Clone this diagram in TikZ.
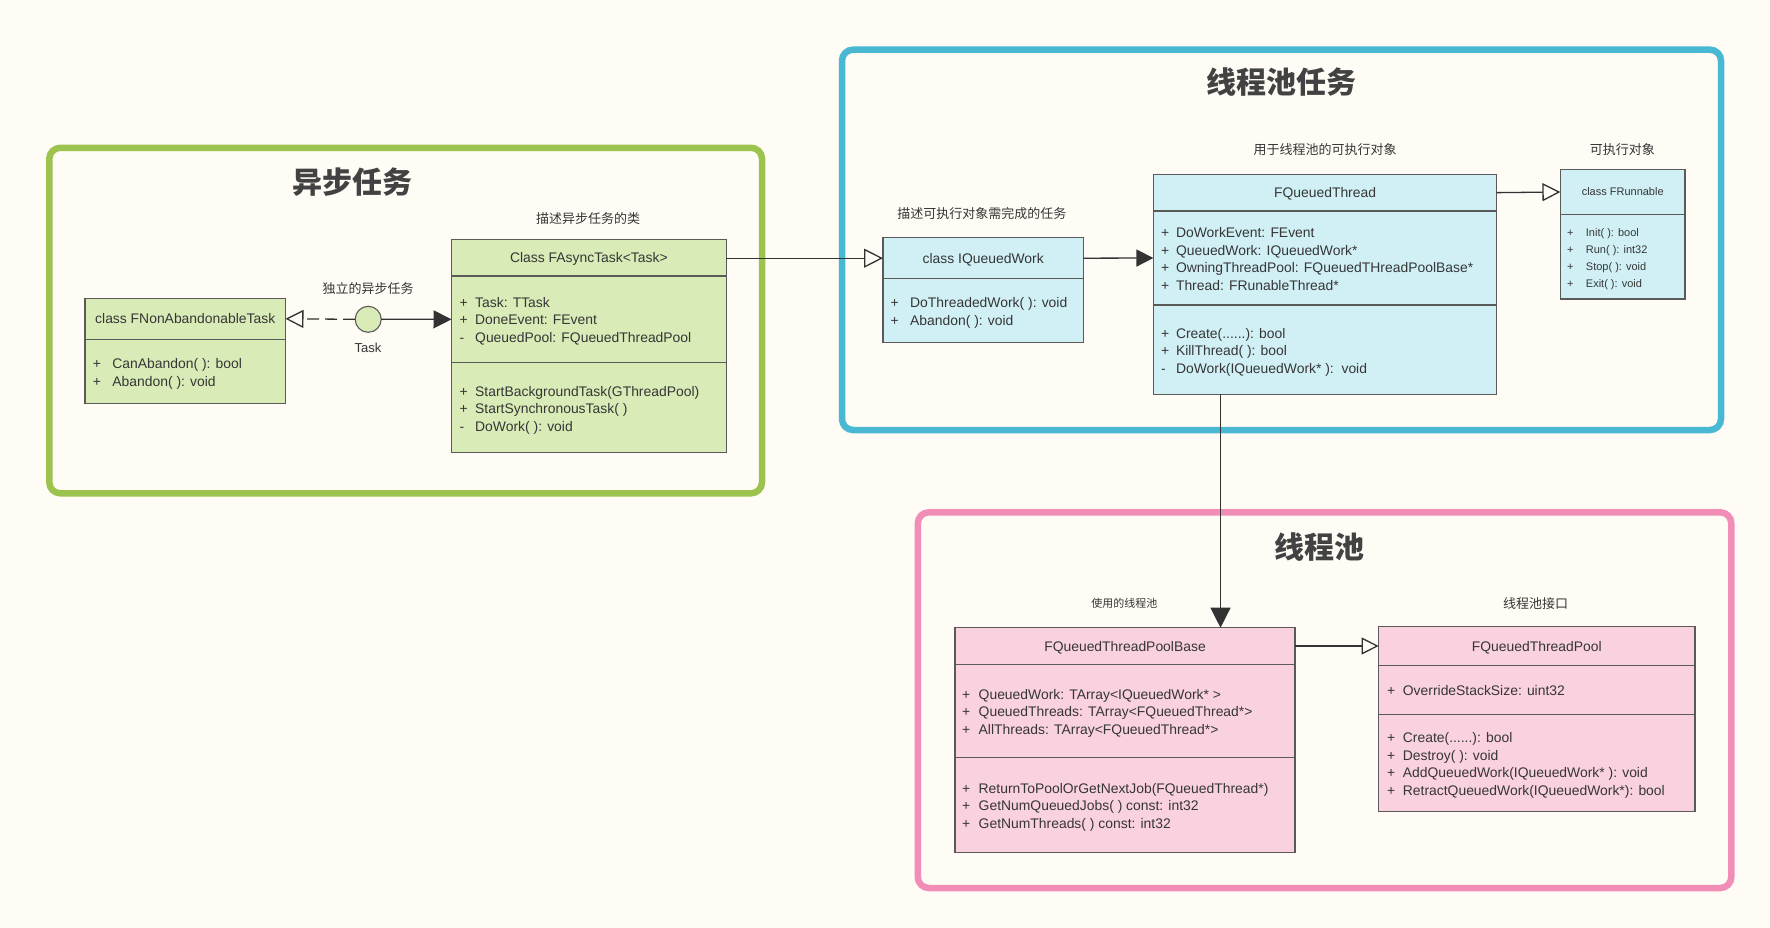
\documentclass[tikz,border=0pt]{standalone}
\usepackage{fontspec}
\setmainfont{Liberation Sans}
\newfontfamily\cjk{Noto Sans CJK SC}
\usetikzlibrary{arrows.meta}

\definecolor{bg}{HTML}{FFFBF5}
\definecolor{grnframe}{HTML}{9CC34E}
\definecolor{grnfill}{HTML}{D9EBB6}
\definecolor{bluframe}{HTML}{48B8D3}
\definecolor{blufill}{HTML}{D0F0F6}
\definecolor{pnkframe}{HTML}{F18DB6}
\definecolor{pnkfill}{HTML}{F9D1DF}
\definecolor{edge}{HTML}{5A5A5A}
\definecolor{ink}{HTML}{363636}
\definecolor{headline}{HTML}{424242}
\definecolor{wire}{HTML}{333333}

% run of periods in parameter lists (kept out of \foreach's "..." syntax)
\newcommand\sixdots{......}

% member lines of a class compartment: sign column and text column
\newcommand\members[6]{%
  \foreach \sg/\tx [count=\i] in {#6} {
    \node[sign] (#1s\i) at (#2, #4+#5*\i-#5) {\sg};
    \node[mline] (#1t\i) at (#3, #4+#5*\i-#5) {\tx};
  }}

\begin{document}
\begin{tikzpicture}[x=1pt,y=-1pt,
  frame/.style={line width=6.5pt, rounded corners=11pt},
  part/.style={draw=edge, line width=1.1pt, anchor=north west, inner sep=0pt, outer sep=0pt},
  ttl/.style={inner sep=0pt, text=ink, font=\fontsize{13.9}{16}\selectfont, text height=10pt, text depth=0pt},
  sign/.style={anchor=west, inner sep=0pt, text=ink, font=\fontsize{13.9}{16}\selectfont, text height=10pt, text depth=0pt},
  mline/.style={anchor=west, inner sep=0pt, text=ink, font=\fontsize{13.9}{16}\selectfont, text height=10pt, text depth=0pt},
  small/.style={font=\fontsize{11}{13}\selectfont, text height=7.9pt},
  note/.style={inner sep=0pt, text=ink, font=\cjk\fontsize{13}{15}\selectfont, text height=9.9pt, text depth=0pt},
  headline/.style={inner sep=0pt, text=headline, font=\cjk\bfseries\fontsize{30}{34}\selectfont, text height=22.8pt, text depth=0pt},
  conn/.style={draw=wire, line width=1.3pt},
  solidtip/.style={-{Triangle[length=#1pt, width=#1pt]}},
  opentip/.style={-{Triangle[open, length=#1pt, width=#1pt]}}
]
% canvas
\fill[bg] (0,0) rectangle (1770,928);
\useasboundingbox (0,0) rectangle (1770,928);

% group frames
\draw[frame, grnframe] (49.3,147.8) rectangle (762,493.3);
\draw[frame, bluframe] (842,49.7) rectangle (1721,430);
\draw[frame, pnkframe] (917.8,512.3) rectangle (1731.3,888);

\node[headline] (hAsync) at (352,181.7) {异步任务};
\node[headline] (hPoolTask) at (1281,81.7) {线程池任务};
\node[headline] (hPool) at (1319,546.7) {线程池};

% ---------------- async task group ----------------
\node[part, fill=grnfill, minimum width=200.5pt, minimum height=41pt] (natH) at (85,298.3) {};
\node[part, fill=grnfill, minimum width=200.5pt, minimum height=64pt] (natM) at (natH.south west) {};
\node[ttl] (natT) at (natH.center) {class FNonAbandonableTask};
\members{natM}{92.6}{112.2}{363.3}{17.7}{+/CanAbandon( ): bool, +/Abandon( ): void}

\node[part, fill=grnfill, minimum width=274.7pt, minimum height=36.7pt] (asH) at (451.5,239.3) {};
\node[part, fill=grnfill, minimum width=274.7pt, minimum height=86.7pt] (asA) at (asH.south west) {};
\node[part, fill=grnfill, minimum width=274.7pt, minimum height=89.6pt] (asM) at (asA.south west) {};
\node[ttl] (asT) at (asH.center) {Class FAsyncTask<Task>};
\members{asA}{459.5}{475}{302.3}{17.5}{+/Task: TTask, +/DoneEvent: FEvent, -/QueuedPool: FQueuedThreadPool}
\members{asM}{459.5}{475}{391}{17.5}{+/StartBackgroundTask(GThreadPool), +/StartSynchronousTask( ), -/DoWork( ): void}
\node[note] (asN) at (588,218.3) {描述异步任务的类};

\node[circle, draw=edge, fill=grnfill, line width=1.1pt, minimum size=26pt, inner sep=0pt, outer sep=0pt] (task) at (368.2,319.3) {};
\node[note] (taskN) at (368,288.3) {独立的异步任务};
\node[ttl, font=\fontsize{13}{15}\selectfont] (taskL) at (368,347.3) {Task};

\draw[conn, dash pattern=on 12pt off 6pt, opentip=18] (task.west) -- (natH.east);
\draw[conn, solidtip=18] (task.east) -- (asA.west);

% ---------------- thread pool task group ----------------
\node[part, fill=blufill, minimum width=200.4pt, minimum height=41pt] (iqH) at (883,237.7) {};
\node[part, fill=blufill, minimum width=200.4pt, minimum height=64pt] (iqM) at (iqH.south west) {};
\node[ttl] (iqT) at (iqH.center) {class IQueuedWork};
\members{iqM}{890.5}{910}{302.3}{17.8}{+/DoThreadedWork( ): void, +/Abandon( ): void}
\node[note] (iqN) at (981.8,213.7) {描述可执行对象需完成的任务};

\node[part, fill=blufill, minimum width=343.3pt, minimum height=36.7pt] (ftH) at (1153.4,174.3) {};
\node[part, fill=blufill, minimum width=343.3pt, minimum height=94pt] (ftA) at (ftH.south west) {};
\node[part, fill=blufill, minimum width=343.3pt, minimum height=89.3pt] (ftM) at (ftA.south west) {};
\node[ttl] (ftT) at (ftH.center) {FQueuedThread};
\members{ftA}{1161}{1175.8}{232.3}{17.8}{+/DoWorkEvent: FEvent, +/QueuedWork: IQueuedWork*, +/OwningThreadPool: FQueuedTHreadPoolBase*, +/Thread: FRunableThread*}
\members{ftM}{1161}{1175.8}{333.3}{17.5}{+/Create(\sixdots): bool, +/KillThread( ): bool, -/DoWork(IQueuedWork* ):\ \ void}
\node[note] (ftN) at (1325,150) {用于线程池的可执行对象};

\node[part, fill=blufill, minimum width=124.6pt, minimum height=45.4pt] (frH) at (1560.4,169.3) {};
\node[part, fill=blufill, minimum width=124.6pt, minimum height=84.3pt] (frM) at (frH.south west) {};
\node[ttl, small] (frT) at (frH.center) {class FRunnable};
\begin{scope}[sign/.append style={small}, mline/.append style={small}]
\members{frM}{1566.8}{1585.7}{233}{16.7}{+/Init( ): bool, +/Run( ): int32, +/Stop( ): void, +/Exit( ): void}
\end{scope}
\node[note] (frN) at (1622.4,150) {可执行对象};

\draw[conn, opentip=19] (asH.east) -- (iqH.west -| asH.east) -- (iqH.west);
\draw[conn, solidtip=17] (iqH.east) -- (ftA.west);
\draw[conn, opentip=18] (ftH.east) -- (frH.west);

% ---------------- thread pool group ----------------
\node[part, fill=pnkfill, minimum width=340pt, minimum height=36.6pt] (pbH) at (955,627.7) {};
\node[part, fill=pnkfill, minimum width=340pt, minimum height=93.4pt] (pbA) at (pbH.south west) {};
\node[part, fill=pnkfill, minimum width=340pt, minimum height=94.6pt] (pbM) at (pbA.south west) {};
\node[ttl] (pbT) at (pbH.center) {FQueuedThreadPoolBase};
\members{pbA}{961.8}{978.5}{694}{17.6}{+/QueuedWork: TArray<IQueuedWork* >, +/QueuedThreads: TArray<FQueuedThread*>, +/AllThreads: TArray<FQueuedThread*>}
\members{pbM}{961.8}{978.5}{788.3}{17.6}{+/ReturnToPoolOrGetNextJob(FQueuedThread*), +/GetNumQueuedJobs( ) const: int32, +/GetNumThreads( ) const: int32}
\node[note, font=\cjk\fontsize{11}{13}\selectfont, text height=8.4pt] (pbN) at (1124.4,603.3) {使用的线程池};

\node[part, fill=pnkfill, minimum width=316.4pt, minimum height=38.6pt] (tpH) at (1378.6,626.7) {};
\node[part, fill=pnkfill, minimum width=316.4pt, minimum height=49.4pt] (tpA) at (tpH.south west) {};
\node[part, fill=pnkfill, minimum width=316.4pt, minimum height=96.6pt] (tpM) at (tpA.south west) {};
\node[ttl] (tpT) at (tpH.center) {FQueuedThreadPool};
\members{tpA}{1387}{1402.7}{690.3}{17.6}{+/OverrideStackSize: uint32}
\members{tpM}{1387}{1402.7}{737.3}{17.7}{+/Create(\sixdots): bool, +/Destroy( ): void, +/AddQueuedWork(IQueuedWork* ): void, +/RetractQueuedWork(IQueuedWork*): bool}
\node[note] (tpN) at (1535.5,603.3) {线程池接口};

\coordinate (drop) at (1220.5,0);
\draw[conn, solidtip=20] (ftM.south -| drop) -- (pbH.north -| drop);
\draw[conn, opentip=17] (pbH.east) -- (tpH.west);
\end{tikzpicture}
\end{document}
